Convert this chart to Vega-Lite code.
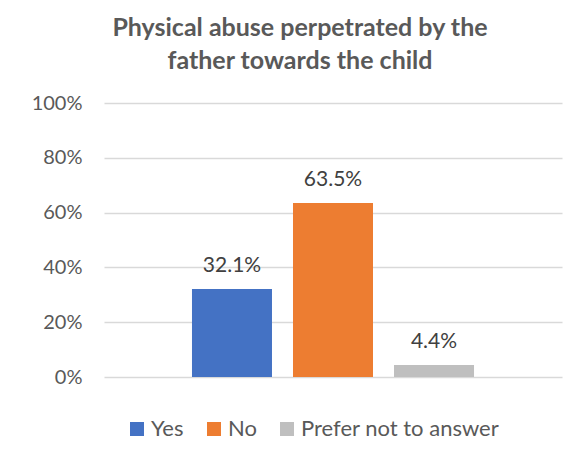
{
  "$schema": "https://vega.github.io/schema/vega-lite/v6.json",
  "width": 458,
  "height": 274,
  "autosize": {"type": "none"},
  "padding": {"left": 104, "top": 103, "right": 17, "bottom": 96},
  "background": "#ffffff",
  "title": {
    "text": ["Physical abuse perpetrated by the", "father towards the child"],
    "font": "Lato",
    "fontSize": 25,
    "fontWeight": "bold",
    "color": "#595959",
    "anchor": "middle",
    "dx": -33,
    "lineHeight": 33,
    "offset": 19
  },
  "data": {
    "values": [
      {"answer": "Yes", "share": 0.321},
      {"answer": "No", "share": 0.635},
      {"answer": "Prefer not to answer", "share": 0.044}
    ]
  },
  "encoding": {
    "x": {
      "field": "answer",
      "type": "nominal",
      "sort": ["Yes", "No", "Prefer not to answer"],
      "scale": {"paddingInner": 0.208, "paddingOuter": 0.871},
      "axis": null
    },
    "y": {
      "field": "share",
      "type": "quantitative",
      "scale": {"domain": [0, 1], "nice": false},
      "axis": {
        "values": [0, 0.2, 0.4, 0.6, 0.8, 1],
        "format": ".0%",
        "title": null,
        "domain": false,
        "ticks": false,
        "grid": true,
        "gridColor": "#D9D9D9",
        "gridWidth": 1.3,
        "labelFont": "Lato",
        "labelFontSize": 20,
        "labelColor": "#595959",
        "labelPadding": 22
      }
    }
  },
  "layer": [
    {
      "mark": {"type": "bar"},
      "encoding": {
        "color": {
          "field": "answer",
          "type": "nominal",
          "sort": ["Yes", "No", "Prefer not to answer"],
          "scale": {
            "domain": ["Yes", "No", "Prefer not to answer"],
            "range": ["#4472C4", "#ED7D31", "#BFBFBF"]
          },
          "legend": {
            "title": null,
            "orient": "none",
            "direction": "horizontal",
            "legendX": 22,
            "legendY": 315,
            "padding": 0,
            "symbolType": "square",
            "symbolSize": 196,
            "symbolStrokeWidth": 0,
            "symbolOpacity": 1,
            "labelFont": "Lato",
            "labelFontSize": 22,
            "labelLimit": 400,
            "labelColor": "#595959",
            "labelOffset": 3,
            "columnPadding": 19
          }
        }
      }
    },
    {
      "mark": {
        "type": "text",
        "baseline": "alphabetic",
        "align": "center",
        "dy": -17,
        "font": "Lato",
        "fontSize": 21,
        "color": "#404040"
      },
      "encoding": {
        "text": {"field": "share", "type": "quantitative", "format": ".1%"}
      }
    }
  ],
  "config": {
    "view": {"stroke": null}
  }
}
